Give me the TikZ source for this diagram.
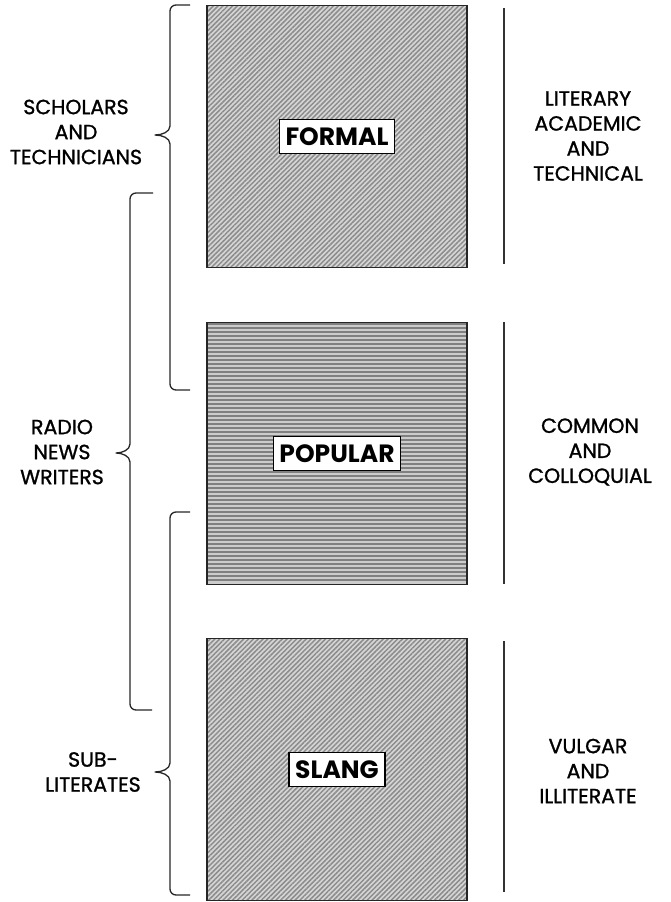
\documentclass[tikz,border=0pt]{standalone}
\usepackage{fontspec}
\setmainfont{Poppins}
\newfontfamily\sidefont{Poppins}[FakeBold=1.2]
\usetikzlibrary{patterns.meta}
\definecolor{hatchdark}{gray}{0.55}
\definecolor{hatchbg}{gray}{0.84}
\definecolor{popbg}{gray}{0.8}
\definecolor{popline}{gray}{0.5}
\tikzset{
  sq/.style={draw=black!85, line width=1.8pt, minimum width=260pt, minimum height=262pt, inner sep=0pt},
  diag/.style={preaction={fill=hatchbg}, pattern={Lines[angle=45,distance=3.4pt,line width=1.5pt]}, pattern color=hatchdark},
  horiz/.style={fill=popbg},
  hline/.style={draw=popline, line width=2pt},
  tag/.style={draw=black, line width=1.5pt, fill=white, inner xsep=6pt, inner ysep=8pt,
    font=\fontsize{25}{28}\selectfont\bfseries},
  side/.style={align=center, font=\sidefont\fontsize{20.5}{25}\selectfont, inner sep=0pt},
  brace/.style={draw=black!85, line width=1.3pt, line join=round},
  rule/.style={draw=black!80, line width=1.3pt}
}
\begin{document}
\begin{tikzpicture}[x=1pt,y=-1pt]
\useasboundingbox (0,0) rectangle (671,902);
% squares
\node[sq, diag] (formal) at (337,136.5) {};
\node[sq, horiz] (popular) at (337,453.5) {};
\foreach \k in {0,...,64} {
  \draw[hline] ([yshift=-2pt-4*\k pt]popular.north west) -- ([yshift=-2pt-4*\k pt]popular.north east);
}
\node[sq] (popularframe) at (popular.center) {};
\node[sq, diag] (slang) at (337,769.5) {};
\node[tag] (formaltag) at (formal.center) {FORMAL};
\node[tag] (populartag) at (popular.center) {POPULAR};
\node[tag] (slangtag) at (slang.center) {SLANG};
% right rules
\coordinate (r1a) at (504,8); \coordinate (r1b) at (504,264);
\coordinate (r2a) at (504,322); \coordinate (r2b) at (504,584);
\coordinate (r3a) at (504,641); \coordinate (r3b) at (504,892);
\draw[rule] (r1a) -- (r1b);
\draw[rule] (r2a) -- (r2b);
\draw[rule] (r3a) -- (r3b);
% right labels
\node[side] (lit) at (588,136) {LITERARY\\ACADEMIC\\AND\\TECHNICAL};
\node[side] (com) at (590,452) {COMMON\\AND\\COLLOQUIAL};
\node[side] (vul) at (588,771) {VULGAR\\AND\\ILLITERATE};
% left labels
\node[side] (sch) at (76,132) {SCHOLARS\\AND\\TECHNICIANS};
\node[side] (rad) at (62,452) {RADIO\\NEWS\\WRITERS};
\node[side] (sub) at (93,772) {SUB-\\LITERATES};
% braces
\draw[brace] (190,5) -- (176,5) to[out=180,in=90] (170,11) -- (170,126)
  .. controls (170,132) and (162,135) .. (155,135)
  .. controls (162,135) and (170,138) .. (170,144)
  -- (170,384) to[out=270,in=180] (176,390) -- (190,390);
\draw[brace] (153,193) -- (136,193) to[out=180,in=90] (130,199) -- (130,444)
  .. controls (130,450) and (122,453) .. (116,453)
  .. controls (122,453) and (130,456) .. (130,462)
  -- (130,704) to[out=270,in=180] (136,710) -- (152,710);
\draw[brace] (190,512) -- (176,512) to[out=180,in=90] (170,518) -- (170,763)
  .. controls (170,769) and (162,772) .. (155,772)
  .. controls (162,772) and (170,775) .. (170,781)
  -- (170,889) to[out=270,in=180] (176,895) -- (190,895);
\end{tikzpicture}
\end{document}
